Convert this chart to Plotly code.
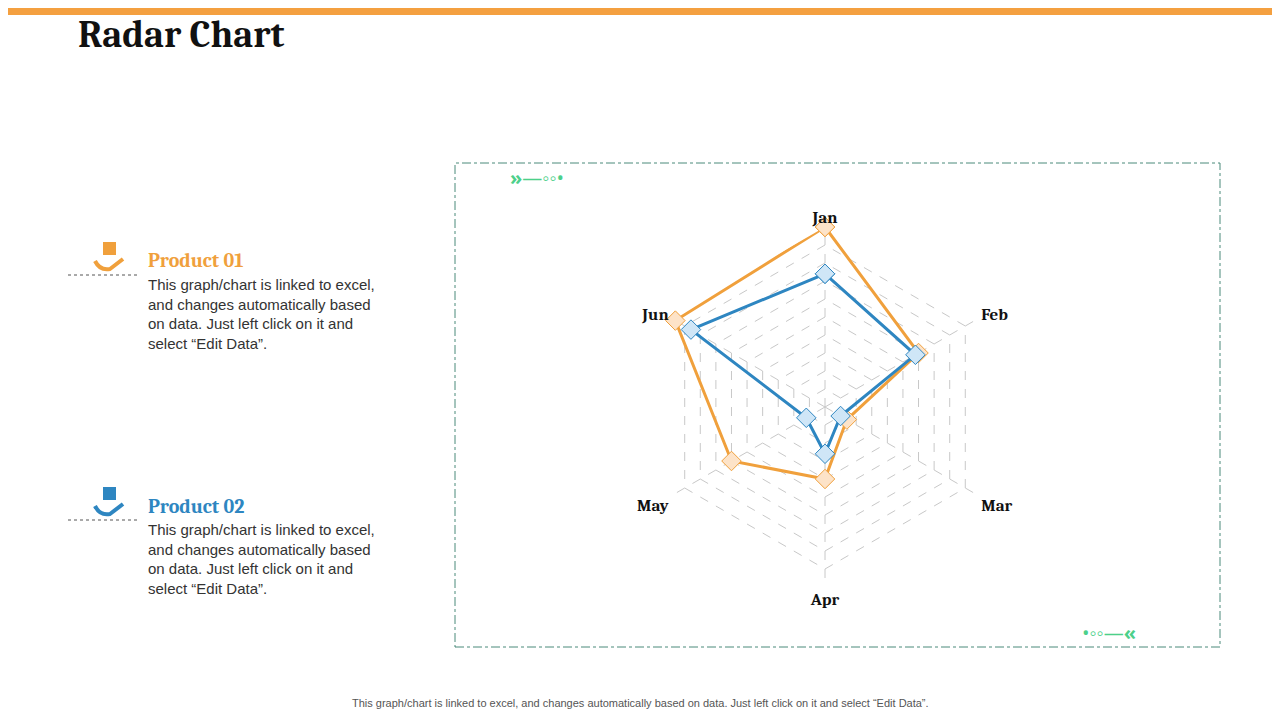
import plotly.graph_objects as go

months = ["Jan", "Feb", "Mar", "Apr", "May", "Jun"]
product_01 = [50, 30, 7, 20, 30, 48]
product_02 = [37, 29, 5, 13, 6, 43]

orange = "#F0A03C"
blue = "#2E86C1"
body = ("This graph/chart is linked to excel,<br>and changes automatically based"
        "<br>on data. Just left click on it and<br>select \u201cEdit Data\u201d.")
W, H, OFF = 1280, 720, 8


def px(x):
    return (x - OFF) / W


def py(y):
    return 1 - (y - OFF) / H


fig = go.Figure()
for name, vals, line_c, fill_c in [("Product 01", product_01, orange, "#FDE3C8"),
                                   ("Product 02", product_02, blue, "#CFE6F7")]:
    fig.add_trace(go.Scatterpolar(
        r=vals + vals[:1], theta=months + months[:1], mode="lines+markers", name=name,
        line=dict(color=line_c, width=3),
        marker=dict(symbol="diamond", size=15, color=fill_c, line=dict(color=line_c, width=1)),
    ))

shapes = [
    dict(type="rect", xref="paper", yref="paper", x0=0, x1=1, y0=py(15), y1=1.02,
         fillcolor="#F4A040", line_width=0),
    dict(type="rect", xref="paper", yref="paper", x0=px(455), x1=px(1220),
         y0=py(647), y1=py(163), line=dict(color="#4a8a7a", width=1, dash="dashdot")),
]
for y, c in [(275, orange), (520, blue)]:
    shapes.append(dict(type="line", xref="paper", yref="paper", x0=px(68), x1=px(140),
                       y0=py(y), y1=py(y), line=dict(color="#555", width=1, dash="dot")))
    shapes.append(dict(type="rect", xref="paper", yref="paper", x0=px(103), x1=px(116),
                       y0=py(y - 20), y1=py(y - 33), fillcolor=c, line_width=0))
    shapes.append(dict(type="path", xref="paper", yref="paper",
                       path=f"M {px(95)},{py(y - 14)} Q {px(100)},{py(y - 4)} {px(110)},{py(y - 6)} "
                            f"L {px(123)},{py(y - 16)}",
                       line=dict(color=c, width=4)))

fig.update_layout(
    width=W, height=H, margin=dict(l=0, r=0, t=0, b=0),
    paper_bgcolor="white", showlegend=False,
    polar=dict(
        domain=dict(x=[px(645), px(1005)], y=[py(587), py(227)]),
        bgcolor="rgba(0,0,0,0)", gridshape="linear",
        radialaxis=dict(range=[0, 50], dtick=5, showticklabels=False, showline=False,
                        ticks="", gridcolor="#c8c8c8", griddash="dash"),
        angularaxis=dict(direction="clockwise", rotation=90, ticks="", showline=False,
                         gridcolor="#c8c8c8", griddash="dash",
                         tickfont=dict(family="Cambria, Liberation Serif, serif", size=17, color="#111")),
    ),
    shapes=shapes,
)
fig.update_polars(angularaxis_tickvals=None)
fig.data[0].theta = tuple(months + months[:1])

serif = "Cambria, Liberation Serif, serif"
for x, y, t, s, c in [(76, 35, "<b>Radar Chart</b>", 38, "#111"),
                      (146, 261, "<b>Product 01</b>", 20, orange),
                      (146, 506, "<b>Product 02</b>", 20, blue)]:
    fig.add_annotation(x=px(x), y=py(y), xref="paper", yref="paper", xanchor="left",
                       yanchor="middle", showarrow=False, text=t,
                       font=dict(size=s, color=c, family=serif))
for y in [274, 519]:
    fig.add_annotation(x=px(146), y=py(274 if y == 274 else 519), xref="paper", yref="paper",
                       xanchor="left", yanchor="top", align="left", showarrow=False, text=body,
                       font=dict(size=15, color="#333", family="Arial, Liberation Sans"))
fig.add_annotation(x=px(640), y=py(711), xref="paper", yref="paper", showarrow=False,
                   text="This graph/chart is linked to excel, and changes automatically based on data. Just left click on it and select \u201cEdit Data\u201d.",
                   font=dict(size=11, color="#555", family="Arial, Liberation Sans"))
fig.add_annotation(x=px(537), y=py(162), xref="paper", yref="paper", showarrow=False,
                   text="<b>\u00bb</b>\u2014\u25e6\u25e6\u2022", font=dict(size=20, color="#4cd08a"))
fig.add_annotation(x=px(1138), y=py(648), xref="paper", yref="paper", showarrow=False,
                   text="\u2022\u25e6\u25e6\u2014<b>\u00ab</b>", font=dict(size=20, color="#4cd08a"))
# bold month labels
fig.update_polars(angularaxis_tickvals=months,
                  angularaxis_ticktext=[f"<b>{m}</b>" for m in months])

fig.write_html("out.html")
